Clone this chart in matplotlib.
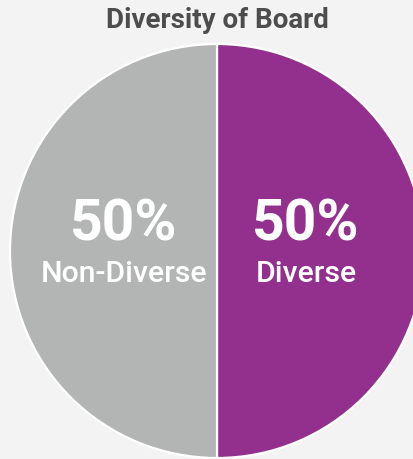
import matplotlib
matplotlib.use("Agg")
import matplotlib.pyplot as plt

title = "Diversity of Board"
categories = ["Diverse", "Non-Diverse"]
values = [50, 50]
colors = ["#93308e", "#b3b5b4"]

W, H = 413, 459
fig = plt.figure(figsize=(W / 100, H / 100), dpi=100, facecolor="#f3f3f3")
ax = fig.add_axes([0, 0, 1, 1])
ax.set_facecolor("#f3f3f3")

cx, cy, r = 217, H - 251, 207
wedges, _ = ax.pie(values, colors=colors, startangle=90, counterclock=False,
                   center=(cx, cy), radius=r, frame=True,
                   wedgeprops=dict(edgecolor="white", linewidth=1.6))
ax.set_xlim(0, W)
ax.set_ylim(0, H)
ax.set_aspect("equal")
ax.axis("off")

total = sum(values)
offsets = [89, -93]
for cat, v, dx in zip(categories, values, offsets):
    ax.text(cx + dx, H - 225, f"{round(v / total * 100)}%", ha="center", va="center",
            fontsize=41, fontweight="bold", color="white", family="Roboto")
    ax.text(cx + dx, H - 274, cat, ha="center", va="center",
            fontsize=21.8, fontweight="medium", color="white", family="Roboto")

fig.text(217 / W, 1 - 20 / H, title, ha="center", va="center",
         fontsize=20, fontweight="bold", color="#4d4d4d", family="Roboto")

fig.savefig("out.png", dpi=100, facecolor=fig.get_facecolor())
